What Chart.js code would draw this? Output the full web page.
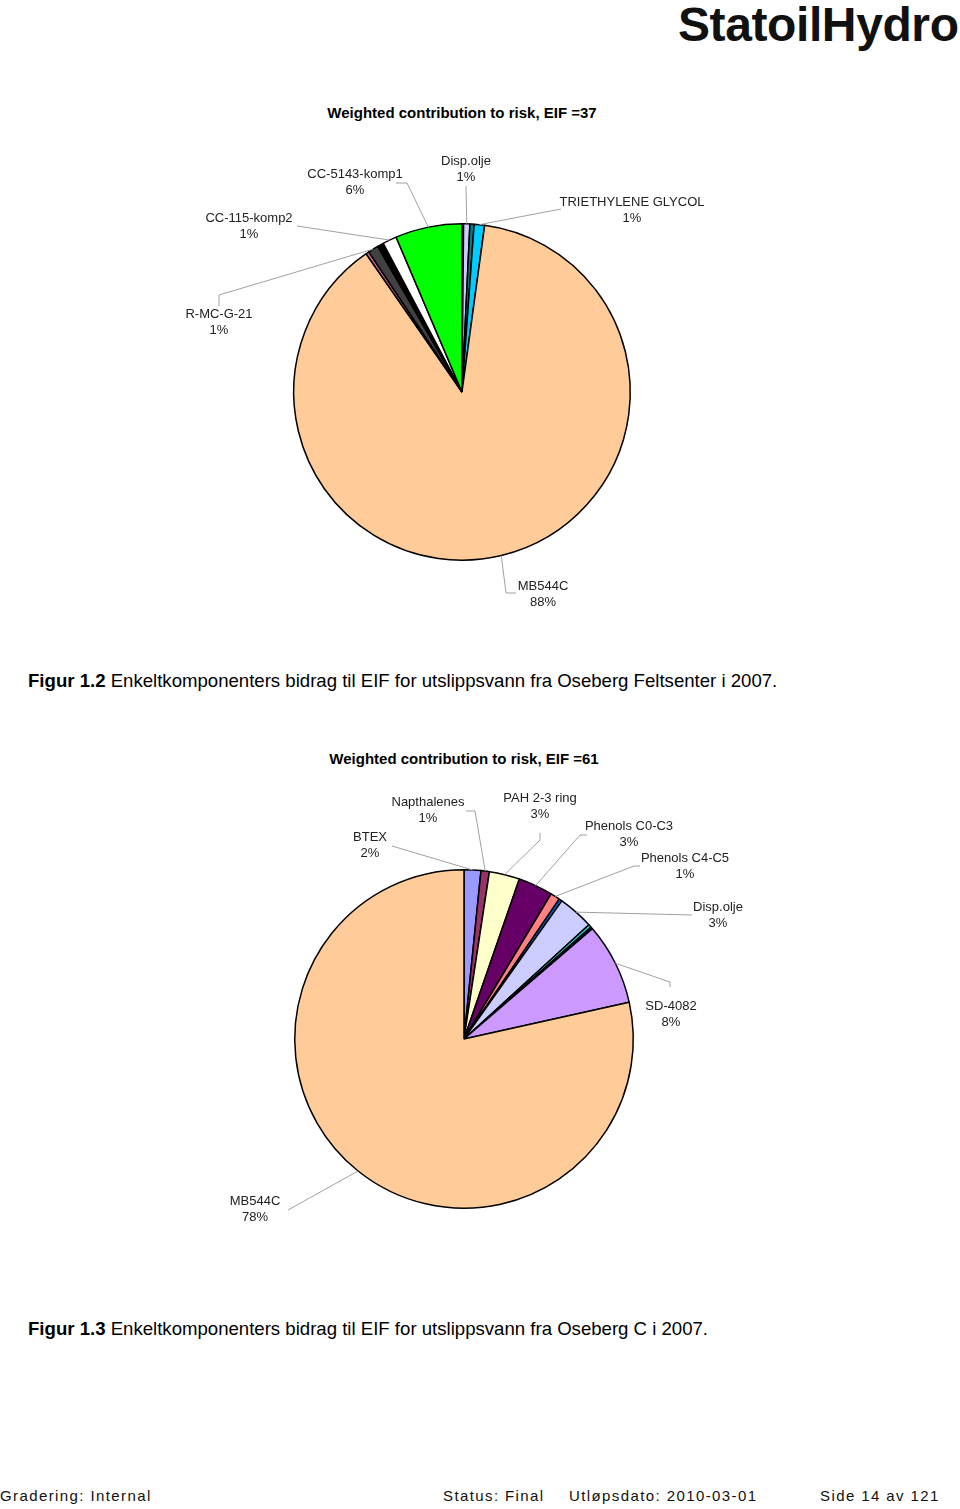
<!DOCTYPE html>
<html>
<head>
<meta charset="utf-8">
<script src="https://cdn.jsdelivr.net/npm/chart.js@4"></script>
<style>
body{margin:0;width:960px;height:1509px;background:#fff;position:relative;font-family:"Liberation Sans",Arial,sans-serif;color:#000;overflow:hidden}
.abs{position:absolute;white-space:nowrap}
.logo{left:678px;top:-3px;font-size:48px;font-weight:bold;letter-spacing:-0.4px;color:#111}
.tittel{font-size:15px;font-weight:bold;transform:translateX(-50%)}
.figur{left:28px;font-size:18.6px}
.fot{top:1487px;font-size:15px;letter-spacing:1.4px;color:#111}
canvas{position:absolute}
</style>
</head>
<body>

<div class="abs logo">StatoilHydro</div>

<div class="abs tittel" style="left:462px;top:104px">Weighted contribution to risk, EIF =37</div>
<canvas id="kake1" width="604" height="525" style="left:160px;top:90px"></canvas>
<div class="abs figur" style="top:670px"><b>Figur 1.2</b> Enkeltkomponenters bidrag til EIF for utslippsvann fra Oseberg Feltsenter i 2007.</div>

<div class="abs tittel" style="left:464px;top:750px">Weighted contribution to risk, EIF =61</div>
<canvas id="kake2" width="600" height="520" style="left:164px;top:740px"></canvas>
<div class="abs figur" style="top:1318px"><b>Figur 1.3</b> Enkeltkomponenters bidrag til EIF for utslippsvann fra Oseberg C i 2007.</div>

<div class="abs fot" style="left:0px">Gradering: Internal</div>
<div class="abs fot" style="left:443px">Status: Final</div>
<div class="abs fot" style="left:569px">Utløpsdato: 2010-03-01</div>
<div class="abs fot" style="left:820px">Side 14 av 121</div>

<script>
// Oseberg Feltsenter (figur 1.2)
let navn1=['','Disp.olje','','TRIETHYLENE GLYCOL','MB544C','','R-MC-G-21','','CC-115-komp2','CC-5143-komp1']
let verdi1=[0.15,0.6,0.4,1.0,88.2,0.3,1.0,0.6,1.35,6.4]
let farge1=['#000000','#ccccff','#008080','#00ccff','#ffcc99','#cc6699','#404040','#000000','#ffffff','#00ff00']

// Oseberg C (figur 1.3)
let navn2=['BTEX','Napthalenes','PAH 2-3 ring','Phenols C0-C3','Phenols C4-C5','','Disp.olje','','','SD-4082','MB544C']
let verdi2=[1.6,0.8,2.9,3.3,0.9,0.3,3.4,0.3,0.2,7.8,78.4]
let farge2=['#9999ff','#993366','#ffffcc','#660066','#ff8080','#0066cc','#ccccff','#33cccc','#000080','#cc99ff','#ffcc99']

// plassering av etiketter relativt til kakens sentrum (x,y = tekstsenter, linje = knekkpunkter)
let plass1=[
null,
{x:4,y:-223,linje:[[4,-206]]},
null,
{x:170,y:-182,linje:[[99,-183]]},
{x:81,y:202,linje:[[54,201],[44,201]]},
null,
{x:-243,y:-70,linje:[[-243,-86],[-243,-97]]},
null,
{x:-213,y:-166,linje:[[-165,-166]]},
{x:-107,y:-210,linje:[[-66,-209],[-55,-209]]}
]

let plass2=[
{x:-94,y:-194,linje:[[-72,-193]]},
{x:-36,y:-229,linje:[[2,-228],[11,-228]]},
{x:76,y:-233,linje:[[76,-206],[76,-199]]},
{x:165,y:-205,linje:[[123,-204],[116,-204]]},
{x:221,y:-173,linje:[[176,-173],[170,-173]]},
null,
{x:254,y:-124,linje:[[228,-124]]},
null,
null,
{x:207,y:-25,linje:[[206,-52],[206,-57]]},
{x:-209,y:170,linje:[[-176,171]]}
]

function lagEtiketter(plass){

return{
id:'etiketter',
afterDatasetsDraw(chart){

let ctx=chart.ctx
let meta=chart.getDatasetMeta(0)
let data=chart.data.datasets[0].data
let total=data.reduce((a,b)=>a+b,0)

ctx.save()

plass.forEach((s,i)=>{

if(!s){
return
}

let arc=meta.data[i]
let p=arc.getProps(['x','y','startAngle','endAngle','outerRadius'],true)
let midt=(p.startAngle+p.endAngle)/2

ctx.strokeStyle='#a0a0a0'
ctx.lineWidth=1
ctx.beginPath()
s.linje.forEach((k,j)=>{
if(j===0){
ctx.moveTo(p.x+k[0],p.y+k[1])
}else{
ctx.lineTo(p.x+k[0],p.y+k[1])
}
})
ctx.lineTo(
p.x+Math.cos(midt)*p.outerRadius,
p.y+Math.sin(midt)*p.outerRadius
)
ctx.stroke()

ctx.fillStyle='#222'
ctx.font='13px "Liberation Sans", Arial, sans-serif'
ctx.textAlign='center'
ctx.textBaseline='middle'
ctx.fillText(chart.data.labels[i],p.x+s.x,p.y+s.y-8)
ctx.fillText(Math.round(data[i]/total*100)+'%',p.x+s.x,p.y+s.y+8)

})

ctx.restore()

}
}

}

function lagKake(id,navn,verdi,farge,plass,pad){

return new Chart(document.getElementById(id),{
type:'pie',
data:{
labels:navn,
datasets:[{
data:verdi,
backgroundColor:farge,
borderColor:'#000',
borderWidth:1.5
}]
},
options:{
responsive:false,
animation:false,
layout:{padding:pad},
plugins:{
legend:{display:false},
tooltip:{enabled:false}
}
},
plugins:[lagEtiketter(plass)]
})

}

lagKake('kake1',navn1,verdi1,farge1,plass1,{left:100,right:100,top:133,bottom:54})
lagKake('kake2',navn2,verdi2,farge2,plass2,{left:100,right:100,top:129,bottom:51})
</script>
</body>
</html>
